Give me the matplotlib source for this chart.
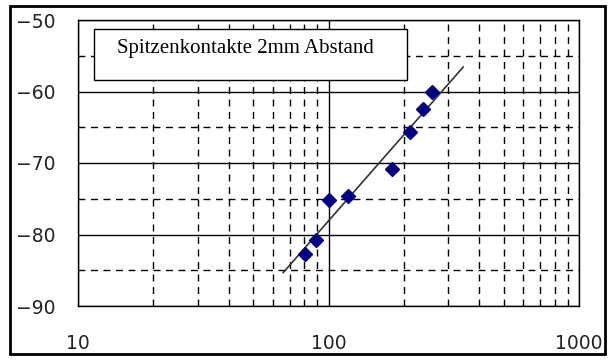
import numpy as np
import matplotlib
matplotlib.use("Agg")
import matplotlib.pyplot as plt
from matplotlib.patches import Rectangle

# Messpunkte (Abstand, Pegel)
x_vals = [80.9, 89.3, 100, 120, 180, 211, 239, 260]
y_vals = [-82.7, -80.8, -75.2, -74.6, -70.8, -65.7, -62.5, -60.0]
trend_range = [66, 345]
titel = "Spitzenkontakte 2mm Abstand"
y_ticks = [-90, -80, -70, -60, -50]
x_ticks = [10, 100, 1000]

fig = plt.figure(figsize=(6.11, 3.61), dpi=100)
ax = fig.add_axes([78/611, 1-306/361, 501/611, 286/361])

ax.set_xscale("log")
ax.set_xlim(10, 1000)
ax.set_ylim(-90, -50)

# Gitter
ax.set_yticks(y_ticks)
ax.set_yticks(np.arange(-85, -50, 10), minor=True)
ax.set_xticks(x_ticks)
ax.set_xticklabels([str(t) for t in x_ticks])
ax.xaxis.set_minor_formatter(matplotlib.ticker.NullFormatter())
ax.grid(True, which="major", color="black", linewidth=1, linestyle="-")
ax.grid(True, which="minor", color="black", linewidth=1, linestyle=(0, (5, 4)))
ax.tick_params(which="both", length=0)
ax.tick_params(axis="x", labelsize=13.5, pad=20, labelcolor="#222222")
ax.tick_params(axis="y", labelsize=13.5, pad=16, labelcolor="#222222")
for s in ax.spines.values():
    s.set_linewidth(1)
    s.set_color("black")
ax.set_axisbelow(True)

# Trendlinie (log. Regression)
k, d = np.polyfit(np.log10(x_vals), y_vals, 1)
tx = np.array(trend_range)
ax.plot(tx, k*np.log10(tx) + d, color="#333333", linewidth=1.2, zorder=3)

ax.plot(x_vals, y_vals, linestyle="none", marker="D", markersize=7,
        color="#000080", zorder=4)

ax.add_patch(Rectangle((94/611, 1-80/361), 313/611, 51/361, transform=fig.transFigure,
                       fc="white", ec="black", lw=1, zorder=5))
ax.text(117/611, 1-48/361, titel, transform=fig.transFigure, family="Liberation Serif",
        fontsize=15, va="center", ha="left", zorder=6)

fig.patches.append(Rectangle((10/611, 1-354/361), 595/611, 348/361,
                             transform=fig.transFigure, fill=False, ec="black", lw=2))

fig.savefig("out.png", dpi=100)
